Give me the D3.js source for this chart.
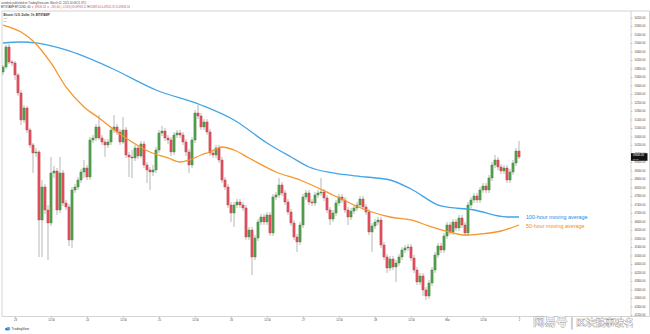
<!DOCTYPE html>
<html><head><meta charset="utf-8">
<script src="https://cdn.jsdelivr.net/npm/d3@7"></script>
<style>html,body{margin:0;padding:0;background:#fff;}svg{display:block;font-family:"Liberation Sans",Arial,sans-serif;}</style>
</head><body><svg id="chart" width="650" height="334"></svg>
<script>
const firstCandle = "2021-02-22T20:00:00Z";
const opens = [
53636,53871,54813,54106,54059,53495,52648,51377,51942,50906,
50201,49824,49871,46671,48224,47141,46530,48883,48977,47141,
48883,47471,47283,45730,48083,48224,48553,48930,49118,48695,
50436,50530,51048,50530,50342,50201,50342,50906,51048,50812,
50342,50906,49730,49636,49589,50060,49683,50248,49259,49024,
48930,49024,49965,50765,50859,50530,50436,49871,50671,50765,
50671,50342,49871,49259,50436,51706,51565,51048,51283,50812,
49824,49730,50060,49494,48553,48224,47377,47000,47377,47518,
47377,47236,45871,46200,44930,45824,46577,46812,46577,46906,
46059,47754,47848,48318,47942,47518,47047,46530,45871,45636,
46436,47754,47942,47518,47471,47848,47942,47989,47707,47141,
46717,47000,47471,47754,47612,47141,46812,47094,47236,47377,
47659,47283,47047,46106,46389,46577,46671,45495,44930,44412,
44835,44459,44647,44930,45259,45354,45401,44883,44318,43753,
44036,43377,43095,43706,44318,45024,45448,45259,45918,46436,
46106,46577,46295,46765,46436,46059,47377,47612,47801,47612,
48083,48271,48083,48648,49259,49494,49165,48977,49118,48553,
48930,49353,49918];
const highs = [
53965,54907,54954,54200,54153,53589,52789,52083,52036,51001,
50295,50060,49965,48553,48365,47377,49636,49212,49118,49636,
49024,47612,47424,48224,48365,48695,49070,49494,49259,50577,
50671,51189,51612,50671,50482,50482,51048,51612,51189,50953,
51518,51048,49871,49965,50201,50201,50389,50389,49400,49165,
49259,50107,50906,51095,51001,50671,50577,50812,50906,50906,
50812,50482,50012,50577,51847,52083,51706,51423,51423,50953,
49965,50201,50201,49636,48695,48365,47518,47518,47659,47659,
47518,47377,46342,46342,45965,46717,46953,46953,47047,47047,
47895,47989,48648,48459,48083,47659,47188,46671,46012,46577,
47895,48083,48083,47659,47989,48083,48648,48129,47848,47283,
47141,47612,47895,47895,47754,47283,47236,47377,47518,47801,
47801,47424,47188,46530,46717,46812,46812,45636,45071,44977,
44977,44788,45071,45401,45495,45542,45542,45024,44459,44177,
44177,43518,43847,44459,45165,45589,45589,46059,46577,46577,
46717,46717,46906,46906,46577,47518,47754,47942,47942,48224,
48412,48412,48789,49400,49730,49636,49306,49259,49259,49070,
49494,50060,50389];
const lows = [
53495,53776,54012,53918,53259,52507,51142,51236,50765,50060,
48883,49636,44930,44930,46953,44788,46389,48648,46906,47000,
47330,47141,45448,45354,47942,48083,48412,48648,48553,48553,
50295,50389,50436,50201,49636,50060,50201,50765,50671,50201,
50248,49589,48695,48648,49447,49541,49589,49118,48412,48083,
48742,48883,49824,50624,50389,50248,49683,49730,50530,50530,
50201,49683,48883,49118,50295,51423,50906,50906,50671,49683,
49589,49589,49353,48412,48083,47236,46577,46342,47236,47236,
47094,45730,45730,44083,44788,45683,46436,46436,46436,45918,
45918,47612,47707,47801,47377,46906,46389,45730,45165,45495,
46295,47612,47377,47330,47330,47707,47801,47565,47000,46436,
46577,46859,47330,47471,47000,46436,46671,46953,47094,47236,
47141,46906,45965,45165,46247,46436,45354,44788,44177,44271,
44318,43753,44506,44788,45118,45212,44741,44177,43612,43612,
43095,42906,42953,43565,44177,44883,45118,45118,45776,45965,
45965,46153,46153,46295,45918,45918,47236,47471,47471,47471,
47942,47942,47942,48506,49118,49024,48836,48836,48412,48412,
48789,49212,49541];
const closes = [
53871,54813,54106,54059,53495,52648,51377,51942,50906,50201,
49824,49871,46671,48224,47141,46530,48883,48977,47141,48883,
47471,47283,45730,48083,48224,48553,48930,49118,48695,50436,
50530,51048,50530,50342,50201,50342,50906,51048,50812,50342,
50906,49730,49636,49589,50060,49683,50248,49259,49024,48930,
49024,49965,50765,50859,50530,50436,49871,50671,50765,50671,
50342,49871,49259,50436,51706,51565,51048,51283,50812,49824,
49730,50060,49494,48553,48224,47377,47000,47377,47518,47377,
47236,45871,46200,44930,45824,46577,46812,46577,46906,46059,
47754,47848,48318,47942,47518,47047,46530,45871,45636,46436,
47754,47942,47518,47471,47848,47942,47989,47707,47141,46717,
47000,47471,47754,47612,47141,46812,47094,47236,47377,47659,
47283,47047,46106,46389,46577,46671,45495,44930,44412,44835,
44459,44647,44930,45259,45354,45401,44883,44318,43753,44036,
43377,43095,43706,44318,45024,45448,45259,45918,46436,46106,
46577,46295,46765,46436,46059,47377,47612,47801,47612,48083,
48271,48083,48648,49259,49494,49165,48977,49118,48553,48930,
49353,49918,49636];
// moving averages (candle index, price)
const ma50Index  = [0,6,10,16,21,27,32,38,43,49,55,59,62,66,69,73,77,82,91,99,110,121,129,136,142,149,154,159,166,172];
const ma50Values = [55847,55518,55095,54059,52930,51989,51471,50812,50342,49871,49589,49400,49494,49730,49871,50107,49965,49589,48930,48553,47848,47141,46812,46671,46389,46106,45965,46012,46153,46436];
const ma100Index  = [0,6,11,21,36,51,66,77,88,96,102,110,121,129,136,146,157,168,172];
const ma100Values = [55001,55048,55001,54671,53824,52789,52083,51377,50295,49636,49165,48883,48695,48553,48130,47330,47141,46812,46812];
const priceTicks = [42200,42600,43000,43400,43800,44200,44600,45000,45400,45800,46200,46600,47000,47400,47800,48200,48600,49000,49400,49800,50200,50600,51000,51400,51800,52200,52600,53000,53400,53800,54200,54600,55000,55400,55800,56200];
const timeTicks = ["2021-02-23T00:00Z","2021-02-23T12:00Z","2021-02-24T00:00Z","2021-02-24T12:00Z","2021-02-25T00:00Z","2021-02-25T12:00Z","2021-02-26T00:00Z","2021-02-26T12:00Z","2021-02-27T00:00Z","2021-02-27T12:00Z","2021-02-28T00:00Z","2021-02-28T12:00Z","2021-03-01T00:00Z","2021-03-01T12:00Z","2021-03-02T00:00Z"];
const timeTickLabels = ["23","12:00","24","12:00","25","12:00","26","12:00","27","12:00","28","12:00","Mar","12:00","2"];

const HOUR = 3600e3;
const t0 = new Date(firstCandle).getTime();
const candles = closes.map((c,i)=>({t:new Date(t0+i*HOUR),o:opens[i],h:highs[i],l:lows[i],c}));

const svg = d3.select("#chart");
const paneL=2, paneR=631, paneT=11, paneB=316.5;
const x = d3.scaleUtc()
  .domain([new Date(Date.parse("2021-02-23T00:00Z") - 13/3*HOUR), new Date(Date.parse("2021-02-23T00:00Z") + 205*HOUR)])
  .range([2, 630]);
const y = d3.scaleLinear().domain([42200, 55800]).range([315, 26]);

svg.append("rect").attr("width",650).attr("height",334).attr("fill","#fff");
svg.append("defs").append("clipPath").attr("id","pane").append("rect")
  .attr("x",paneL).attr("y",paneT).attr("width",paneR-paneL).attr("height",paneB-paneT);

// header
svg.append("text").attr("x",1).attr("y",3.6).attr("font-size",2.7).attr("fill","#444")
  .text("coindesk published on TradingView.com, March 02, 2021 00:08:21 UTC");
const h2 = svg.append("text").attr("x",1).attr("y",7.6).attr("font-size",2.7).attr("fill","#333");
h2.append("tspan").text("BITSTAMP:BTCUSD, 60  ");
h2.append("tspan").attr("fill","#e04d5c").text("\u25BC 49636.34 \u25BC \u2212281.66 (\u22120.56%)  ");
h2.append("tspan").text("O:");
h2.append("tspan").attr("fill","#e04d5c").text("49918.12 ");
h2.append("tspan").text("H:");
h2.append("tspan").attr("fill","#e04d5c").text("50389.40 ");
h2.append("tspan").text("L:");
h2.append("tspan").attr("fill","#e04d5c").text("49541.35 ");
h2.append("tspan").text("C:");
h2.append("tspan").attr("fill","#e04d5c").text("49636.34");

// frame
const fr = svg.append("g").attr("stroke","#c9c9c9").attr("stroke-width",0.8).attr("fill","none");
fr.append("line").attr("x1",paneL).attr("x2",649.5).attr("y1",paneT).attr("y2",paneT);
fr.append("line").attr("x1",paneL).attr("x2",paneL).attr("y1",paneT).attr("y2",paneB);
fr.append("line").attr("x1",649.5).attr("x2",649.5).attr("y1",paneT).attr("y2",paneB);
fr.append("line").attr("x1",paneL).attr("x2",649.5).attr("y1",paneB).attr("y2",paneB);
fr.append("line").attr("x1",paneR).attr("x2",paneR).attr("y1",paneT).attr("y2",paneB);

// pane legend
svg.append("text").attr("x",3.5).attr("y",15.6).attr("font-size",2.8).attr("fill","#333").attr("font-weight","bold")
  .text("Bitcoin / U.S. Dollar, 1h, BITSTAMP");
svg.append("text").attr("x",3.5).attr("y",19).attr("font-size",2.5).attr("fill","#555").text("Vol");
svg.append("text").attr("x",3.5).attr("y",22.3).attr("font-size",2.5).attr("fill","#555").text("MA");

const plot = svg.append("g").attr("clip-path","url(#pane)");

// candles
const up = "#52a04c", upB = "#3a7a35", dn = "#e0505c", dnB = "#b83a45";
const cg = plot.append("g");
cg.selectAll("line.w").data(candles).join("line").attr("class","w")
  .attr("x1",d=>x(d.t)).attr("x2",d=>x(d.t)).attr("y1",d=>y(d.h)).attr("y2",d=>y(d.l))
  .attr("stroke","#999").attr("stroke-width",0.7);
cg.selectAll("rect.b").data(candles).join("rect").attr("class","b")
  .attr("x",d=>x(d.t)-1.1).attr("width",2.2)
  .attr("y",d=>y(Math.max(d.o,d.c)))
  .attr("height",d=>Math.max(0.8,Math.abs(y(d.o)-y(d.c))))
  .attr("fill",d=>d.c>=d.o?up:dn).attr("stroke",d=>d.c>=d.o?upB:dnB).attr("stroke-width",0.35);

// moving averages
const tOf = i => new Date(t0+i*HOUR);
const lineGen = d3.line().x(d=>x(tOf(d[0]))).y(d=>y(d[1])).curve(d3.curveMonotoneX);
plot.append("path").datum(ma100Index.map((k,i)=>[k,ma100Values[i]]))
  .attr("d",lineGen).attr("fill","none").attr("stroke","#42a5e8").attr("stroke-width",1.3);
plot.append("path").datum(ma50Index.map((k,i)=>[k,ma50Values[i]]))
  .attr("d",lineGen).attr("fill","none").attr("stroke","#f5962a").attr("stroke-width",1.3);

// annotations
svg.append("text").attr("x",526).attr("y",219).attr("font-size",5.4).attr("fill","#1e88e5").text("100-hour moving average");
svg.append("text").attr("x",526).attr("y",227.5).attr("font-size",5.4).attr("fill","#f28c1c").text("50-hour moving average");

// price axis
const ya = svg.append("g").attr("transform",`translate(${paneR},0)`)
  .call(d3.axisRight(y).tickValues(priceTicks).tickFormat(d3.format(".2f")).tickSize(1.5).tickPadding(2));
ya.select(".domain").remove();
ya.selectAll("line").attr("stroke","#999").attr("stroke-width",0.5);
ya.selectAll("text").attr("font-size",2.6).attr("fill","#444").attr("font-family","Liberation Sans, Arial, sans-serif");

// last price box
const last = closes[closes.length-1];
svg.append("rect").attr("x",631).attr("y",y(last)-3.8).attr("width",16.5).attr("height",7.6).attr("fill","#131313");
svg.append("text").attr("x",633).attr("y",y(last)-0.6).attr("font-size",2.6).attr("fill","#fff").text(d3.format(".2f")(last));
svg.append("text").attr("x",633).attr("y",y(last)+2.6).attr("font-size",2.3).attr("fill","#ddd").text("51:39");

// time axis
const xa = svg.append("g").attr("transform",`translate(0,${paneB})`)
  .call(d3.axisBottom(x).tickValues(timeTicks.map(s=>new Date(s))).tickFormat((d,i)=>timeTickLabels[i]).tickSize(1.5).tickPadding(1.2));
xa.select(".domain").remove();
xa.selectAll("line").attr("stroke","#999").attr("stroke-width",0.5);
xa.selectAll("text").attr("font-size",2.7).attr("fill","#444").attr("font-family","Liberation Sans, Arial, sans-serif");

// TradingView logo
const lg = svg.append("g").attr("transform","translate(5,327)");
lg.append("ellipse").attr("cx",2.5).attr("cy",2).attr("rx",2.6).attr("ry",1.6).attr("fill","#2f80c9");
lg.append("ellipse").attr("cx",3.6).attr("cy",1.2).attr("rx",1.5).attr("ry",1.2).attr("fill","#5aa7e6");
lg.append("text").attr("x",6.5).attr("y",3.3).attr("font-size",3.2).attr("fill","#333").text("TradingView");

// watermark
const wm = svg.append("text").attr("x",533).attr("y",325.5).attr("fill","#ffffff")
  .attr("stroke","#8a8a8a").attr("stroke-width",0.7).attr("paint-order","stroke")
  .attr("font-family","Noto Sans CJK SC, sans-serif");
wm.append("tspan").attr("font-size",11.5).text("网易号");
wm.append("tspan").attr("font-size",10).attr("dx",3).text("|");
wm.append("tspan").attr("font-size",9.6).attr("dx",3).text("区块链事破名");
</script></body></html>
